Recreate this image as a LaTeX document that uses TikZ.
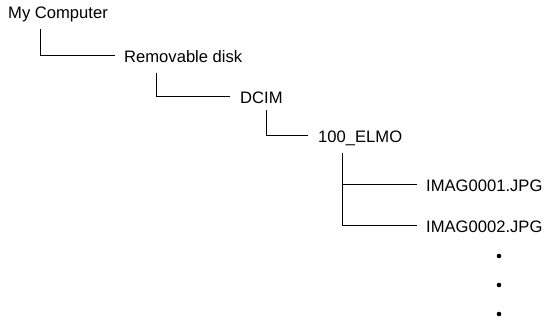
\documentclass[tikz,border=0pt]{standalone}
\usepackage{fontspec}
\setmainfont{Liberation Sans}
\begin{document}
\begin{tikzpicture}[x=1pt,y=-1pt,
  item/.style={anchor=base west,inner sep=0pt,font=\fontsize{16.6}{19}\selectfont},
  link/.style={line width=0.8pt,black},
  dot/.style={circle,fill=black,inner sep=0pt,minimum size=4.6pt}]
\useasboundingbox (0,0) rectangle (546,320);
\node[item] (mc) at (8,19) {My Computer};
\node[item] (rd) at (124,63) {Removable disk};
\node[item] (dc) at (240,104) {DCIM};
\node[item] (el) at (318,143) {100\_ELMO};
\node[item] (i1) at (426,191.5) {IMAG0001.JPG};
\node[item] (i2) at (426,233) {IMAG0002.JPG};
\node[dot] (d1) at (499,256) {};
\node[dot] (d2) at (499,285) {};
\node[dot] (d3) at (499,314) {};
\draw[link] ([xshift=32pt,yshift=-10pt]mc.base west) |- ([xshift=-9pt,yshift=7.5pt]rd.base west);
\draw[link] ([xshift=32pt,yshift=-10pt]rd.base west) |- ([xshift=-10pt,yshift=7.5pt]dc.base west);
\draw[link] ([xshift=26pt,yshift=-6pt]dc.base west) |- ([xshift=-10pt,yshift=7.5pt]el.base west);
\draw[link] ([xshift=24pt,yshift=-10pt]el.base west) |- ([xshift=-9pt,yshift=7.5pt]i1.base west);
\draw[link] ([xshift=24pt,yshift=-10pt]el.base west) |- ([xshift=-9pt,yshift=7.5pt]i2.base west);
\end{tikzpicture}
\end{document}
